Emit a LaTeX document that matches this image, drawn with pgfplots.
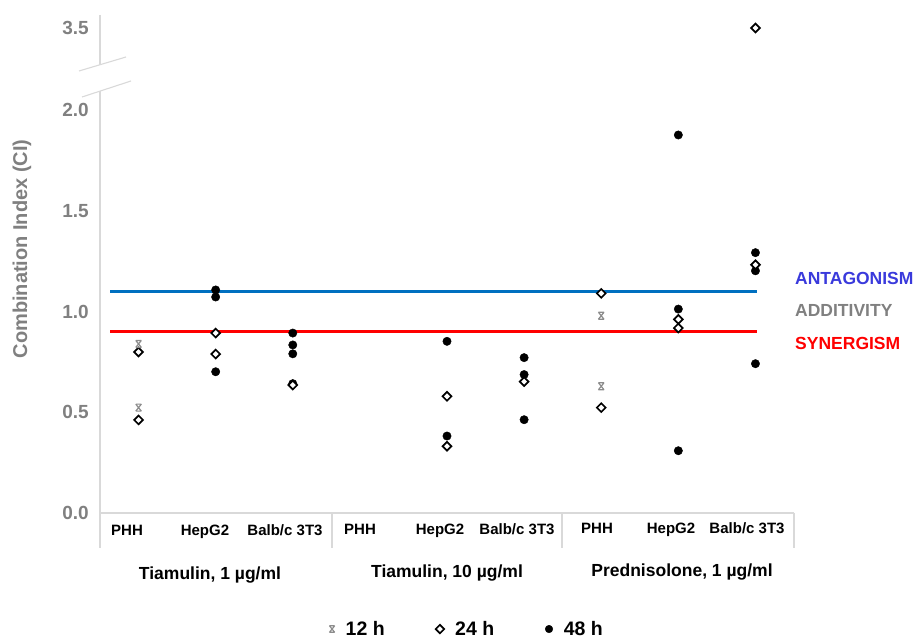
\documentclass[border=0pt]{standalone}
\usepackage{pgfplots}
\pgfplotsset{compat=1.18}
\usepackage{fontspec}
\setmainfont{Liberation Sans}
\definecolor{axgray}{RGB}{217,217,217}
\definecolor{txtgray}{RGB}{128,128,128}
\definecolor{antblue}{RGB}{58,58,220}
\definecolor{lineblue}{RGB}{0,112,192}
\definecolor{synred}{RGB}{255,0,0}
\definecolor{m12}{RGB}{140,140,140}
\newcommand{\fs}[1]{\fontsize{#1}{#1}\selectfont}
\pgfdeclareplotmark{xstar}{%
  \pgfpathmoveto{\pgfqpoint{-0.8\pgfplotmarksize}{-\pgfplotmarksize}}%
  \pgfpathlineto{\pgfqpoint{0.8\pgfplotmarksize}{\pgfplotmarksize}}%
  \pgfpathmoveto{\pgfqpoint{-0.8\pgfplotmarksize}{\pgfplotmarksize}}%
  \pgfpathlineto{\pgfqpoint{0.8\pgfplotmarksize}{-\pgfplotmarksize}}%
  \pgfpathmoveto{\pgfqpoint{-0.8\pgfplotmarksize}{\pgfplotmarksize}}%
  \pgfpathlineto{\pgfqpoint{0.8\pgfplotmarksize}{\pgfplotmarksize}}%
  \pgfpathmoveto{\pgfqpoint{-0.8\pgfplotmarksize}{-\pgfplotmarksize}}%
  \pgfpathlineto{\pgfqpoint{0.8\pgfplotmarksize}{-\pgfplotmarksize}}%
  \pgfusepathqstroke}

\pgfplotstableread{
x y
0 0.839
0 0.523
6 0.979
6 0.629
}\twelve
\pgfplotstableread{
x y
0 0.799
0 0.462
1 0.893
1 0.789
2 0.635
4 0.579
4 0.331
5 0.652
6 1.09
6 0.523
7 0.961
7 0.918
8 1.232
8 3.5
}\twentyfour
\pgfplotstableread{
x y
1 1.107
1 1.072
1 0.701
2 0.893
2 0.834
2 0.790
2 0.642
4 0.852
4 0.382
5 0.771
5 0.687
5 0.463
7 1.876
7 1.012
7 0.309
8 1.292
8 1.202
8 0.741
}\fortyeight

\begin{document}
\begin{tikzpicture}
\path[use as bounding box] (0,0) rectangle (917pt,639pt);
\begin{axis}[
  at={(100pt,126pt)}, anchor=south west,
  scale only axis, width=694pt, height=498pt,
  xmin=-0.5, xmax=8.5, ymin=0, ymax=2.4715,
  y coord trafo/.code={\pgfmathparse{ifthenelse(#1>3,#1-1.093,#1)}},
  axis line style={draw=none},
  major tick length=0pt,
  xtick=\empty,
  ytick={0,0.5,1,1.5,2,3.5},
  yticklabels={0.0,0.5,1.0,1.5,2.0,3.5},
  yticklabel style={font=\bfseries\fs{19}, text=txtgray, inner sep=0pt, xshift=-11pt},
  clip=false,
  legend columns=3,
  legend image code/.code={\draw[#1] plot coordinates {(0pt,0pt)};},
  legend style={draw=none, fill=none, at={(axis description cs:0.529,-0.233)}, anchor=center,
    font=\bfseries\fs{19.5},
    /tikz/every odd column/.append style={column sep=9pt},
    /tikz/every even column/.append style={column sep=49pt}},
]
\addplot[lineblue, line width=2.4pt, forget plot] coordinates {(-0.364,1.1) (8.02,1.1)};
\addplot[synred, line width=2.4pt, forget plot] coordinates {(-0.364,0.9) (8.02,0.9)};
\addplot[only marks, mark=*, mark size=4.2pt, mark options={fill=black, draw=black}, forget plot] table[x=x,y=y] {\fortyeight};
\addplot[only marks, mark=square*, mark size=3.1pt, mark options={rotate=45, fill=white, draw=black, line width=1.7pt}, forget plot] table[x=x,y=y] {\twentyfour};
\addplot[only marks, mark=xstar, mark size=3.5pt, mark options={draw=m12, line width=1.2pt}, forget plot] table[x=x,y=y] {\twelve};
\addlegendimage{only marks, mark=xstar, mark size=3.3pt, mark options={draw=m12, line width=1.2pt}}
\addlegendentry{12 h}
\addlegendimage{only marks, mark=square*, mark size=3pt, mark options={rotate=45, fill=white, draw=black, line width=1.7pt}}
\addlegendentry{24 h}
\addlegendimage{only marks, mark=*, mark size=3.8pt, mark options={fill=black, draw=black}}
\addlegendentry{48 h}
\end{axis}
\begin{scope}[x=1pt, y=-1pt, shift={(0pt,639pt)}]
  \draw[axgray, line width=1.2pt] (100,15) -- (100,64.7);
  \draw[axgray, line width=1.2pt] (100,91) -- (100,548);
  \draw[axgray, line width=1.2pt] (100,513) -- (794,513);
  \draw[axgray, line width=1.2pt] (332,513) -- (332,548);
  \draw[axgray, line width=1.2pt] (562,513) -- (562,548);
  \draw[axgray, line width=1.2pt] (794,513) -- (794,548);
  \draw[axgray, line width=1.1pt] (79,71) -- (126,57);
  \draw[axgray, line width=1.1pt] (82,97) -- (131,81);
  \node[rotate=90, text=txtgray, font=\bfseries\fs{20}, inner sep=0pt] at (22,249) {Combination Index (CI)};
  \node[anchor=west, inner sep=0pt, text=antblue, font=\bfseries\fs{17.5}] at (795,278) {ANTAGONISM};
  \node[anchor=west, inner sep=0pt, text=txtgray, font=\bfseries\fs{17.5}] at (795,310) {ADDITIVITY};
  \node[anchor=west, inner sep=0pt, text=synred, font=\bfseries\fs{17.5}] at (795,343) {SYNERGISM};
  \begin{scope}[every node/.style={anchor=base, inner sep=0pt, font=\bfseries\fs{15}}]
    \node at (127,536) {PHH};
    \node at (205,536) {HepG2};
    \node at (285,536) {Balb/c 3T3};
    \node at (360,535) {PHH};
    \node at (440,535) {HepG2};
    \node at (517,535) {Balb/c 3T3};
    \node at (597,534) {PHH};
    \node at (671,534) {HepG2};
    \node at (747,534) {Balb/c 3T3};
  \end{scope}
  \begin{scope}[every node/.style={anchor=base, inner sep=0pt, font=\bfseries\fs{17.5}}]
    \node at (210,580) {Tiamulin, 1 µg/ml};
    \node at (447,578) {Tiamulin, 10 µg/ml};
    \node at (682,577) {Prednisolone, 1 µg/ml};
  \end{scope}
\end{scope}
\end{tikzpicture}
\end{document}
